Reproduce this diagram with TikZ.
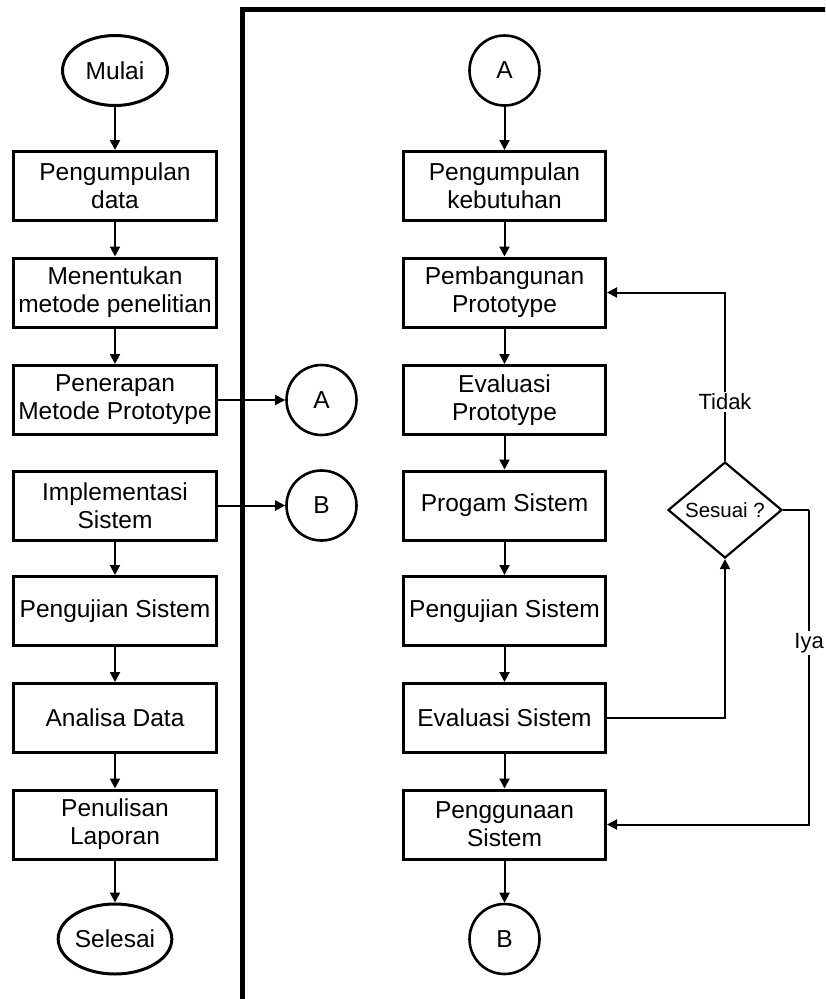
\documentclass[tikz,border=0pt]{standalone}
\usepackage{fontspec}
\setmainfont{Liberation Sans}
\usetikzlibrary{arrows.meta,shapes.geometric,calc}
\begin{document}
\begin{tikzpicture}[x=1pt,y=-1pt,
  box/.style={draw,line width=3pt,minimum width=203pt,minimum height=69pt,inner sep=0pt,align=center,font=\fontsize{24.5}{28}\selectfont},
  term/.style={draw,ellipse,line width=3pt,minimum width=105pt,minimum height=70pt,inner sep=0pt,font=\fontsize{24.5}{28}\selectfont},
  conn/.style={draw,circle,line width=2.6pt,minimum size=70pt,inner sep=0pt,font=\fontsize{24.5}{28}\selectfont},
  dec/.style={draw,diamond,line width=2.2pt,minimum width=114pt,minimum height=96pt,inner sep=0pt,font=\fontsize{20.5}{24}\selectfont},
  lbl/.style={fill=white,inner sep=2pt,font=\fontsize{22}{26}\selectfont},
  arr/.style={line width=2pt,-{Triangle[length=10pt,width=10pt]}},
  ln/.style={line width=2pt}]
\useasboundingbox (0,0) rectangle (825,999);
\begin{scope}
\clip (0,0) rectangle (825,999);
\draw[line width=5pt] (242,1010) -- (242,9.5) -- (840,9.5);
\end{scope}
% left column
\node[term] (mulai) at (115,70.5) {Mulai};
\node[box] (l1) at (115,186) {Pengumpulan\\data};
\node[box] (l2) at (115,292.5) {Menentukan\\metode penelitian};
\node[box] (l3) at (115,400) {Penerapan\\Metode Prototype};
\node[box] (l4) at (115,505.5) {Implementasi\\Sistem};
\node[box] (l5) at (115,611) {Pengujian Sistem};
\node[box] (l6) at (115,718) {Analisa Data};
\node[box] (l7) at (115,824.5) {Penulisan\\Laporan};
\node[term] (selesai) at (115,939) {Selesai};
\node[conn] (ca) at (321.5,400) {A};
\node[conn] (cb) at (321.5,505.5) {B};
\draw[arr] (mulai) -- (l1);
\draw[arr] (l1) -- (l2);
\draw[arr] (l2) -- (l3);
\draw[arr] (l4) -- (l5);
\draw[arr] (l5) -- (l6);
\draw[arr] (l6) -- (l7);
\draw[arr] (l7) -- (selesai);
\draw[arr] (l3) -- (ca);
\draw[arr] (l4) -- (cb);
% right column
\node[conn] (ra) at (504.5,70.5) {A};
\node[box,minimum width=202pt] (r1) at (504.5,186) {Pengumpulan\\kebutuhan};
\node[box,minimum width=202pt] (r2) at (504.5,292.5) {Pembangunan\\Prototype};
\node[box,minimum width=202pt] (r3) at (504.5,400) {Evaluasi\\Prototype};
\node[box,minimum width=202pt] (r4) at (504.5,505.5) {Progam Sistem};
\node[box,minimum width=202pt] (r5) at (504.5,611) {Pengujian Sistem};
\node[box,minimum width=202pt] (r6) at (504.5,718) {Evaluasi Sistem};
\node[box,minimum width=202pt] (r7) at (504.5,824.5) {Penggunaan\\Sistem};
\node[conn] (rb) at (504.5,939) {B};
\node[dec] (dia) at (725,510) {Sesuai ?};
\draw[arr] (ra) -- (r1);
\draw[arr] (r1) -- (r2);
\draw[arr] (r2) -- (r3);
\draw[arr] (r3) -- (r4);
\draw[arr] (r4) -- (r5);
\draw[arr] (r5) -- (r6);
\draw[arr] (r6) -- (r7);
\draw[arr] (r7) -- (rb);
\draw[arr] (r6.east) -| (dia.south);
\draw[arr] (dia.north) |- node[lbl,pos=0.176] {Tidak} (r2.east);
\coordinate (ya) at ($(dia.east)+(26,0)$);
\draw[ln] (dia.east) -- (ya);
\draw[arr] (ya) |- node[lbl,pos=0.211] {Iya} (r7.east);
\end{tikzpicture}
\end{document}
